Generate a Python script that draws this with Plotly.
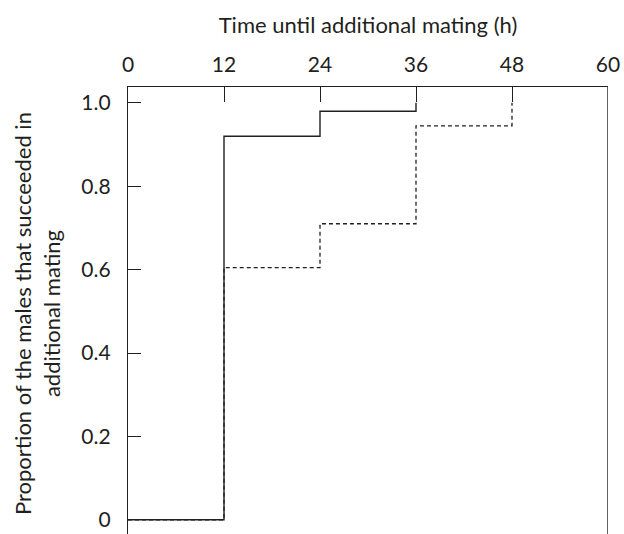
import plotly.graph_objects as go

# Data (step functions, cumulative proportions)
times = [0, 12, 24, 36, 48]
solid_vals = [0.0, 0.92, 0.98, 1.0]           # steps at 0,12,24,36
dashed_vals = [0.0, 0.605, 0.71, 0.945, 1.0]  # steps at 0,12,24,36,48
x_ticks = [0, 12, 24, 36, 48, 60]
y_ticks = [0, 0.2, 0.4, 0.6, 0.8, 1.0]
y_ticklabels = ["0", "0.2", "0.4", "0.6", "0.8", "1.0"]

line_col = "#231f20"
font_family = "Lato, Open Sans, sans-serif"
fs = 21
fs_title = 22

W, H = 624, 534

def step_xy(ts, vals):
    xs, ys = [], []
    for i, v in enumerate(vals):
        xs.append(ts[i]); ys.append(v)
        if i + 1 < len(vals):
            xs.append(ts[i + 1]); ys.append(v)
    return xs, ys

sx, sy = step_xy(times, solid_vals)
dx, dy = step_xy(times, dashed_vals)

fig = go.Figure()
fig.add_trace(go.Scatter(x=dx, y=dy, mode="lines",
                         line=dict(color=line_col, width=1.3, dash="4px,3px"),
                         showlegend=False, hoverinfo="skip", cliponaxis=False))
fig.add_trace(go.Scatter(x=sx, y=sy, mode="lines",
                         line=dict(color=line_col, width=1.4),
                         showlegend=False, hoverinfo="skip", cliponaxis=False))

fig.add_shape(type="line", xref="x", yref="paper", x0=60, x1=60, y0=0, y1=1,
              line=dict(color=line_col, width=1.4))

top, left = 87, 128
plot_h = H - top
fig.update_layout(
    width=W, height=H,
    margin=dict(l=left, r=16, t=top, b=0, autoexpand=False),
    paper_bgcolor="white", plot_bgcolor="white",
    font=dict(family=font_family, color=line_col, size=fs),
    title=dict(text="Time until additional mating (h)", x=0.5, xref="paper",
               xanchor="center", y=1 - 25 / H, yref="container", yanchor="middle",
               font=dict(size=fs_title, family=font_family, color=line_col)),
    xaxis=dict(side="top", range=[0, 60], tickvals=x_ticks,
               ticks="inside", ticklen=15, tickwidth=1.4, tickcolor=line_col,
               showline=True, linecolor=line_col, linewidth=1.4,
               showgrid=False, zeroline=False, automargin=False,
               ticklabelstandoff=5,
               tickfont=dict(size=fs)),
    yaxis=dict(range=[-0.034, 1.038], tickvals=y_ticks, ticktext=y_ticklabels,
               ticks="inside", ticklen=13, tickwidth=1.4, tickcolor=line_col,
               showline=True, linecolor=line_col, linewidth=1.4,
               showgrid=False, zeroline=False, automargin=False,
               ticklabelstandoff=12,
               tickfont=dict(size=fs)),
    annotations=[dict(text="Proportion of the males that succeeded in<br>additional mating",
                      xref="paper", yref="paper", x=(37 - left) / 480,
                      y=(H - 314) / plot_h,
                      xanchor="center", yanchor="middle", textangle=-90,
                      showarrow=False, font=dict(size=fs_title, family=font_family, color=line_col))],
)

fig.write_html(
    "out.html",
    config={"displayModeBar": False},
    post_script="document.body.style.margin='0';document.body.style.overflow='hidden';",
)
